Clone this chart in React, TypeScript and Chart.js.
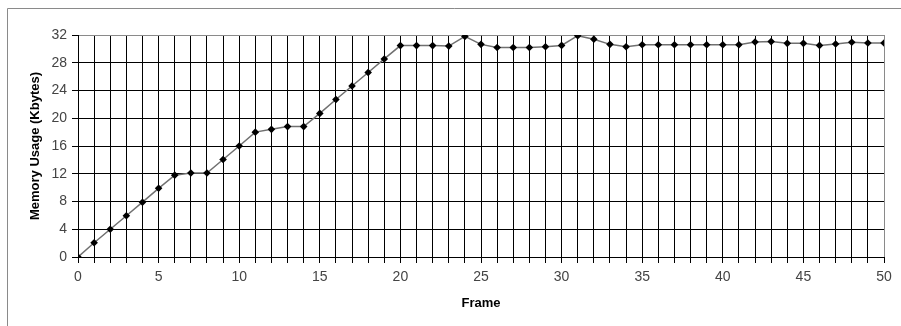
import React, { useEffect, useRef } from "react";
import { Chart, registerables } from "chart.js";

Chart.register(...registerables);

const frames: number[] = [
  0, 1, 2, 3, 4, 5, 6, 7, 8, 9, 10, 11, 12, 13, 14, 15, 16, 17, 18, 19, 20,
  21, 22, 23, 24, 25, 26, 27, 28, 29, 30, 31, 32, 33, 34, 35, 36, 37, 38, 39, 40,
  41, 42, 43, 44, 45, 46, 47, 48, 49, 50,
];

const memoryKb: number[] = [
  0, 2.05, 4.0, 5.95, 7.9, 9.9, 11.8, 12.1, 12.1, 14.05, 16.0, 18.0, 18.4, 18.8,
  18.8, 20.7, 22.7, 24.65, 26.6, 28.55, 30.47, 30.47, 30.47, 30.4, 31.8, 30.65,
  30.2, 30.2, 30.2, 30.3, 30.5, 31.9, 31.4, 30.65, 30.3, 30.6, 30.6, 30.6, 30.6,
  30.6, 30.6, 30.6, 31.0, 31.05, 30.8, 30.8, 30.5, 30.7, 30.95, 30.85, 30.85,
];

const xLabelEvery = 5;
const yTickStep = 4;
const yMax = 32;
const xMax = 50;
const xTitle = "Frame";
const yTitle = "Memory Usage (Kbytes)";

const framePlugin = {
  id: "outerFrame",
  beforeDraw(chart: any) {
    const ctx = chart.ctx;
    ctx.save();
    ctx.strokeStyle = "#8a8a8a";
    ctx.lineWidth = 1;
    ctx.beginPath();
    ctx.moveTo(7.5, chart.height);
    ctx.lineTo(7.5, 8.5);
    ctx.lineTo(chart.width, 8.5);
    ctx.stroke();
    ctx.restore();
  },
};

export default function App() {
  const ref = useRef<HTMLCanvasElement | null>(null);

  useEffect(() => {
    if (!ref.current) return;
    const fontFamily = "'Liberation Sans', Arial, sans-serif";
    const chart = new Chart(ref.current, {
      type: "line",
      data: {
        datasets: [
          {
            data: frames.map((f, i) => ({ x: f, y: memoryKb[i] })),
            borderColor: "#707070",
            borderWidth: 1.5,
            pointStyle: "rectRot",
            pointRadius: 3.8,
            pointBackgroundColor: "#000",
            pointBorderColor: "#000",
            pointBorderWidth: 0,
            tension: 0,
          },
        ],
      },
      options: {
        responsive: false,
        animation: false,
        events: [],
        layout: { padding: { left: 0, top: 35, right: 17, bottom: 0 } },
        plugins: {
          legend: { display: false },
          tooltip: { enabled: false },
        },
        scales: {
          x: {
            type: "linear",
            min: 0,
            max: xMax,
            afterFit: (s: any) => {
              s.height = 69;
            },
            ticks: {
              stepSize: 1,
              autoSkip: false,
              maxRotation: 0,
              padding: 6,
              color: "#444",
              font: { family: fontFamily, size: 14 },
              callback: (v: any) => (Number(v) % xLabelEvery === 0 ? String(v) : ""),
            },
            grid: {
              color: (c: any) => (c.tick && c.tick.value === xMax ? "#8a8a8a" : "#000"),
              lineWidth: 1,
              tickLength: 6,
              tickColor: "#000",
            },
            border: { color: "#000" },
            title: {
              display: true,
              text: xTitle,
              color: "#000",
              font: { family: fontFamily, size: 13, weight: "bold" },
              padding: { top: 0, bottom: 15 },
            },
          },
          y: {
            type: "linear",
            min: 0,
            max: yMax,
            afterFit: (s: any) => {
              s.width = 78;
            },
            ticks: {
              stepSize: yTickStep,
              padding: 5,
              color: "#444",
              font: { family: fontFamily, size: 14 },
            },
            grid: {
              color: (c: any) => (c.tick && c.tick.value === yMax ? "#8a8a8a" : "#000"),
              lineWidth: 1,
              tickLength: 6,
              tickColor: "#000",
            },
            border: { color: "#000" },
            title: {
              display: true,
              text: yTitle,
              color: "#000",
              font: { family: fontFamily, size: 13, weight: "bold" },
              padding: { top: 28, bottom: 0 },
            },
          },
        },
      },
      plugins: [framePlugin],
    });
    return () => chart.destroy();
  }, []);

  return (
    <div style={{ position: "absolute", left: 0, top: 0, width: 901, height: 326, background: "#fff" }}>
      <canvas ref={ref} width={901} height={326} style={{ display: "block" }} />
    </div>
  );
}
